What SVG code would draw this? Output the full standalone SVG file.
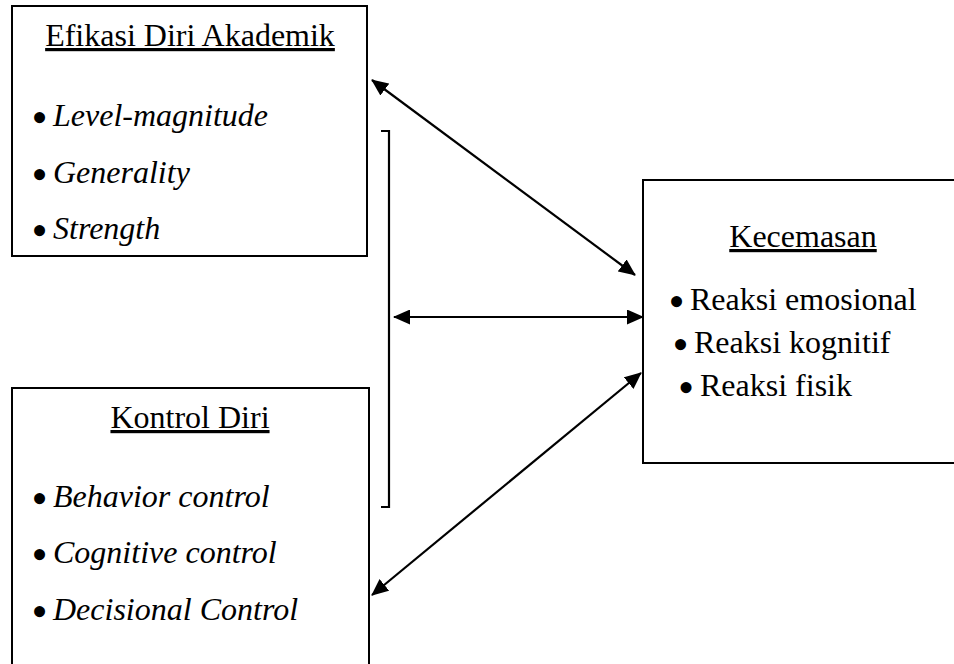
<svg xmlns="http://www.w3.org/2000/svg" width="954" height="664" viewBox="0 0 954 664">
<style>
.box{fill:#fff;stroke:#000;stroke-width:2}
.t{font-family:"Liberation Serif","Times New Roman",serif;font-size:32px;fill:#000}
.i{font-style:italic}
.u{text-decoration:underline}
.b{font-size:46px;font-style:normal}
.c{fill:none;stroke:#000;stroke-width:2.2}
</style>
<defs>
<marker id="ah" viewBox="0 0 17 15" markerWidth="17" markerHeight="15" refX="16" refY="7.5" orient="auto-start-reverse" markerUnits="userSpaceOnUse">
<path d="M0,0 L17,7.5 L0,15 z" fill="#000"/>
</marker>
</defs>
<rect width="954" height="664" fill="#fff"/>
<g id="efikasi">
<rect class="box" x="12" y="6" width="355" height="250"/>
<text class="t u" x="190" y="46" text-anchor="middle">Efikasi Diri Akademik</text>
<text class="t" x="31.5" y="133"><tspan class="b">•</tspan><tspan class="i" x="53" dy="-7">Level-magnitude</tspan></text>
<text class="t" x="31.5" y="190"><tspan class="b">•</tspan><tspan class="i" x="53" dy="-7">Generality</tspan></text>
<text class="t" x="31.5" y="246"><tspan class="b">•</tspan><tspan class="i" x="53" dy="-7">Strength</tspan></text>
</g>
<g id="kontrol">
<rect class="box" x="12" y="388" width="357" height="300"/>
<text class="t u" x="190" y="428" text-anchor="middle">Kontrol Diri</text>
<text class="t" x="31.5" y="514"><tspan class="b">•</tspan><tspan class="i" x="53" dy="-7">Behavior control</tspan></text>
<text class="t" x="31.5" y="570"><tspan class="b">•</tspan><tspan class="i" x="53" dy="-7">Cognitive control</tspan></text>
<text class="t" x="31.5" y="627"><tspan class="b">•</tspan><tspan class="i" x="53" dy="-7">Decisional Control</tspan></text>
</g>
<g id="kecemasan">
<rect class="box" x="643" y="180" width="330" height="283"/>
<text class="t u" x="803" y="247" text-anchor="middle">Kecemasan</text>
<text class="t" x="668.5" y="317"><tspan class="b">•</tspan><tspan x="690" dy="-7">Reaksi emosional</tspan></text>
<text class="t" x="672.5" y="360"><tspan class="b">•</tspan><tspan x="694" dy="-7">Reaksi kognitif</tspan></text>
<text class="t" x="678" y="403"><tspan class="b">•</tspan><tspan x="700" dy="-7">Reaksi fisik</tspan></text>
</g>
<g id="connectors">
<path class="c" d="M381,131 H389 V507 H381"/>
<line class="c" x1="372" y1="80" x2="635" y2="275" marker-start="url(#ah)" marker-end="url(#ah)"/>
<line class="c" x1="394" y1="317" x2="643" y2="317" marker-start="url(#ah)" marker-end="url(#ah)"/>
<line class="c" x1="641" y1="373" x2="372" y2="595" marker-start="url(#ah)" marker-end="url(#ah)"/>
</g>
</svg>
